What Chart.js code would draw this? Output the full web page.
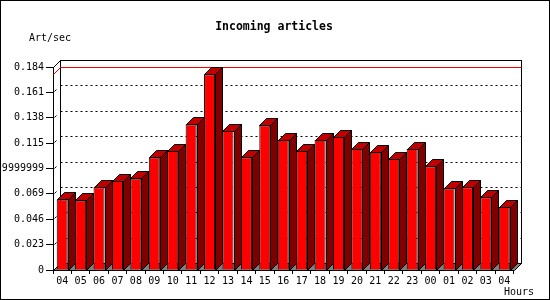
<!DOCTYPE html>
<html lang="en">
<head>
    <meta charset="UTF-8">
    <title>Incoming articles</title>
    <script src="https://cdn.jsdelivr.net/npm/chart.js"></script>
    <style>
        body { margin: 0; background: #fff; }
        canvas { display: block; }
    </style>
</head>
<body>
    <canvas id="chart" width="550" height="300"></canvas>

    <script>
        // data
        const hours = ['04', '05', '06', '07', '08', '09', '10', '11', '12', '13', '14', '15', '16',
                       '17', '18', '19', '20', '21', '22', '23', '00', '01', '02', '03', '04'];
        const artPerSec = [0.064, 0.063, 0.075, 0.081, 0.083, 0.102, 0.108, 0.132, 0.1775, 0.126,
                           0.102, 0.131, 0.118, 0.108, 0.118, 0.121, 0.110, 0.107, 0.101, 0.110,
                           0.094, 0.074, 0.075, 0.066, 0.057];
        const tickValues = [0, 0.023, 0.046, 0.069, 0.092, 0.115, 0.138, 0.161, 0.184];
        const tickLabels = ['0', '0.023', '0.046', '0.069', '0.09199999999', '0.115', '0.138', '0.161', '0.184'];

        const depth = 7;
        const mono = 'DejaVu Sans Mono';

        function line(ctx, pts) {
            ctx.beginPath();
            ctx.moveTo(pts[0][0], pts[0][1]);
            for (let i = 1; i < pts.length; i++) ctx.lineTo(pts[i][0], pts[i][1]);
        }

        // draws the box, floor, grid and the 3d sides of the bars
        const threeD = {
            id: 'threeD',
            beforeDraw(chart) {
                const ctx = chart.ctx;
                ctx.save();
                ctx.fillStyle = '#fff';
                ctx.fillRect(0, 0, chart.width, chart.height);
                ctx.restore();
            },
            beforeDatasetsDraw(chart) {
                const ctx = chart.ctx;
                const a = chart.chartArea;
                const L = Math.round(a.left) + 0.5, R = Math.round(a.right) + 0.5;
                const T = Math.round(a.top) + 0.5, B = Math.round(a.bottom) + 0.5;
                const yScale = chart.scales.y;
                ctx.save();
                ctx.lineWidth = 1;
                ctx.strokeStyle = '#000';

                // floor
                ctx.fillStyle = '#808080';
                line(ctx, [[L, B], [R, B], [R + depth, B - depth], [L + depth, B - depth]]);
                ctx.closePath();
                ctx.fill();
                ctx.stroke();

                // back wall
                ctx.strokeRect(L + depth, T - depth, R - L, B - T);
                line(ctx, [[L, T], [L + depth, T - depth]]);
                ctx.stroke();

                // dotted grid on the back wall
                ctx.setLineDash([2, 3]);
                tickValues.forEach(v => {
                    if (v === 0 || v === tickValues[tickValues.length - 1]) return;
                    const y = Math.round(yScale.getPixelForValue(v)) + 0.5 - depth;
                    line(ctx, [[L + depth, y], [R + depth, y]]);
                    ctx.stroke();
                });
                ctx.setLineDash([]);

                // little slashes at the y ticks
                tickValues.forEach(v => {
                    if (v === 0 || v === tickValues[tickValues.length - 1]) return;
                    const y = Math.round(yScale.getPixelForValue(v)) + 0.5;
                    line(ctx, [[L + 1, y - 1], [L + 3, y - 3]]);
                    ctx.stroke();
                });

                // max line
                const maxY = Math.round(yScale.getPixelForValue(Math.max(...artPerSec))) + 0.5;
                ctx.strokeStyle = '#ff0000';
                line(ctx, [[L, maxY], [L + depth, maxY - depth], [R + depth, maxY - depth]]);
                ctx.stroke();
                ctx.restore();
            },
            afterDatasetsDraw(chart) {
                const ctx = chart.ctx;
                const meta = chart.getDatasetMeta(0);
                ctx.save();
                ctx.lineWidth = 1;
                ctx.strokeStyle = '#000';
                meta.data.forEach(bar => {
                    const x1 = Math.round(bar.x - bar.width / 2) + 0.5;
                    const x2 = Math.round(bar.x + bar.width / 2) + 0.5;
                    const top = Math.round(bar.y) + 0.5;
                    const base = Math.round(bar.base) + 0.5;
                    // side
                    ctx.fillStyle = '#800000';
                    line(ctx, [[x2, top], [x2 + depth, top - depth], [x2 + depth, base - depth], [x2, base]]);
                    ctx.closePath();
                    ctx.fill();
                    ctx.stroke();
                    // top
                    ctx.fillStyle = '#c00000';
                    line(ctx, [[x1, top], [x1 + depth, top - depth], [x2 + depth, top - depth], [x2, top]]);
                    ctx.closePath();
                    ctx.fill();
                    ctx.stroke();
                });
                ctx.restore();
            },
            afterDraw(chart) {
                const ctx = chart.ctx;
                ctx.save();
                ctx.fillStyle = '#000';
                ctx.textBaseline = 'middle';
                ctx.font = 'bold 11.5px "' + mono + '"';
                ctx.textAlign = 'center';
                ctx.fillText('Incoming articles', 274, 27);
                ctx.font = '10px "' + mono + '"';
                ctx.textAlign = 'left';
                ctx.fillText('Art/sec', 29, 38);
                ctx.fillText('Hours', 504, 292);
                // image border
                ctx.strokeStyle = '#000';
                ctx.lineWidth = 1;
                ctx.strokeRect(0.5, 0.5, chart.width - 1, chart.height - 1);
                ctx.restore();
            }
        };

        new Chart(document.getElementById('chart'), {
            type: 'bar',
            data: {
                labels: hours,
                datasets: [{
                    data: artPerSec,
                    backgroundColor: '#ff0000',
                    borderColor: '#000',
                    borderWidth: 1,
                    barPercentage: 0.6,
                    categoryPercentage: 1
                }]
            },
            options: {
                responsive: false,
                animation: false,
                layout: { padding: { left: 0, right: 36.5, top: 67, bottom: 0 } },
                plugins: {
                    legend: { display: false },
                    tooltip: { enabled: false }
                },
                scales: {
                    x: {
                        offset: true,
                        grid: { offset: true, drawOnChartArea: false, tickLength: 4, color: '#000' },
                        border: { display: true, color: '#000' },
                        ticks: { color: '#000', font: { family: mono, size: 10 }, padding: 1, maxRotation: 0, autoSkip: false },
                        afterFit(scale) { scale.height = 30; }
                    },
                    y: {
                        min: 0,
                        max: 0.184,
                        afterBuildTicks(scale) { scale.ticks = tickValues.map(v => ({ value: v })); },
                        grid: { drawOnChartArea: false, tickLength: 7, color: '#000' },
                        border: { display: true, color: '#000' },
                        ticks: {
                            color: '#000',
                            font: { family: mono, size: 10 },
                            padding: 2,
                            callback: (v, i) => tickLabels[i]
                        },
                        afterFit(scale) { scale.width = 53; }
                    }
                }
            },
            plugins: [threeD]
        });
    </script>
</body>
</html>
